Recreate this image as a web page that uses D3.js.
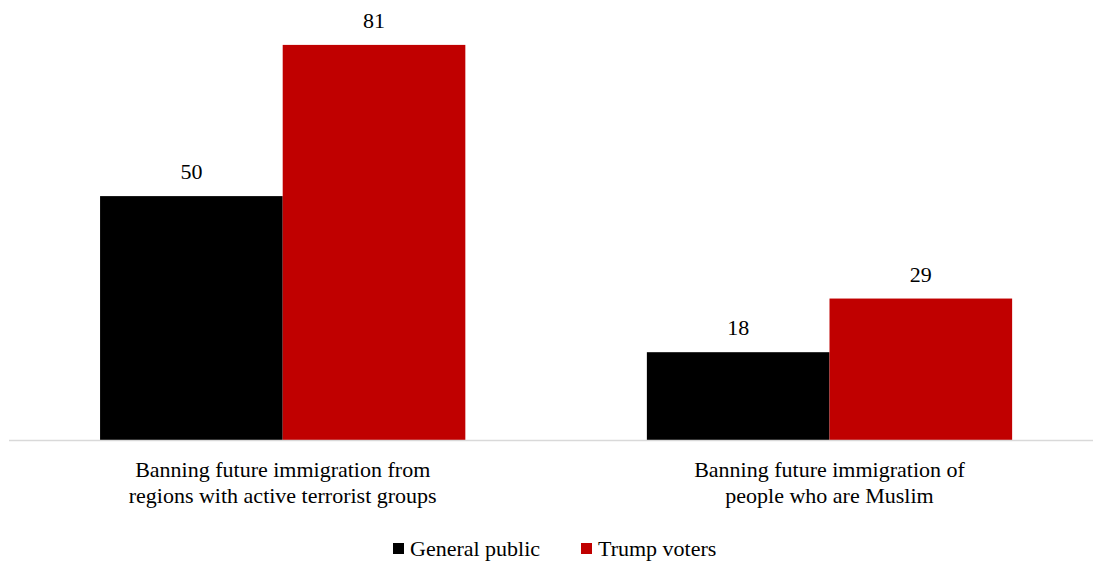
<!DOCTYPE html>
<html>
<head>
<meta charset="utf-8">
<script src="https://cdn.jsdelivr.net/npm/d3@7"></script>
<style>
  html, body { margin: 0; padding: 0; background: #fff; }
  svg { display: block; }
  svg text { font-family: "Liberation Serif", serif !important; }
</style>
</head>
<body>
<svg id="chart" width="1093" height="561"></svg>
<script>
// Survey questions (categories), shown as two-line labels
const categories = [
  ["Banning future immigration from", "regions with active terrorist groups"],
  ["Banning future immigration of", "people who are Muslim"]
];
const seriesNames = ["General public", "Trump voters"];
const generalPublic = [50, 18];
const trumpVoters = [81, 29];
const seriesColors = ["#000000", "#C00000"];

const width = 1093, height = 561;
const svg = d3.select("#chart");
const fontFamily = "'Liberation Serif', serif";
const fontSize = 22;

// Apply the serif face to a text selection
function serif(sel) {
  sel.attr("font-family", fontFamily)
    .style("font-family", fontFamily, "important")
    .style("font-size", fontSize + "px")
    .attr("fill", "#000");
}

const catIds = categories.map((_, i) => i);
const values = [generalPublic, trumpVoters];

const x0 = d3.scaleBand()
  .domain(catIds)
  .range([9.3, 1102.9])
  .paddingInner(0.332)
  .paddingOuter(0.166);

const x1 = d3.scaleBand()
  .domain(seriesNames.map((_, i) => i))
  .range([0, x0.bandwidth()])
  .padding(0);

const y = d3.scaleLinear()
  .domain([0, 90])
  .range([440, 1]);

// Bars
const groups = svg.append("g").selectAll("g")
  .data(catIds)
  .join("g")
  .attr("transform", c => `translate(${x0(c)},0)`);

groups.selectAll("rect")
  .data(c => seriesNames.map((_, s) => ({ s, v: values[s][c] })))
  .join("rect")
  .attr("x", d => x1(d.s))
  .attr("y", d => y(d.v))
  .attr("width", x1.bandwidth())
  .attr("height", d => y(0) - y(d.v))
  .attr("fill", d => seriesColors[d.s]);

// Value labels above each bar
groups.selectAll("text.val")
  .data(c => seriesNames.map((_, s) => ({ s, v: values[s][c] })))
  .join("text")
  .attr("class", "val")
  .attr("x", d => x1(d.s) + x1.bandwidth() / 2)
  .attr("y", d => y(d.v) - 17)
  .attr("text-anchor", "middle")
  .call(serif)
  .text(d => d.v);

// Baseline axis
svg.append("line")
  .attr("x1", 9).attr("x2", width)
  .attr("y1", y(0) + 0.5).attr("y2", y(0) + 0.5)
  .attr("stroke", "#d9d9d9")
  .attr("stroke-width", 1.5);

// Category labels, one text element per line
svg.append("g").selectAll("text")
  .data(catIds.flatMap(c => categories[c].map((line, i) => ({ c, line, i }))))
  .join("text")
  .attr("text-anchor", "middle")
  .attr("x", d => x0(d.c) + x0.bandwidth() / 2)
  .attr("y", d => 477 + d.i * 26)
  .call(serif)
  .text(d => d.line);

// Legend
const legendItems = [
  { name: seriesNames[0], color: seriesColors[0], x: 393 },
  { name: seriesNames[1], color: seriesColors[1], x: 581 }
];
const legend = svg.append("g").selectAll("g")
  .data(legendItems)
  .join("g")
  .attr("transform", d => `translate(${d.x},0)`);
legend.append("rect")
  .attr("x", 0).attr("y", 543)
  .attr("width", 11).attr("height", 11)
  .attr("fill", d => d.color);
legend.append("text")
  .attr("x", 17).attr("y", 556)
  .call(serif)
  .text(d => d.name);
</script>
</body>
</html>
